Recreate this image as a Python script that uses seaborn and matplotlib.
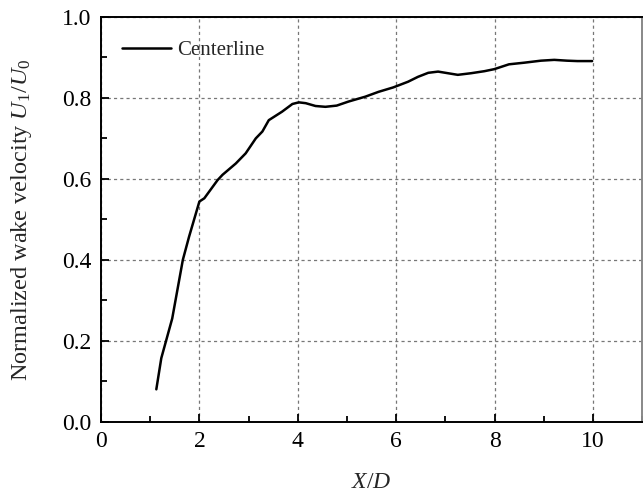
import numpy as np
import pandas as pd
import matplotlib
matplotlib.use("Agg")
import matplotlib.pyplot as plt
from matplotlib.ticker import MultipleLocator
import seaborn as sns

# Centerline wake velocity deficit recovery along the downstream distance
x_over_d = [1.125, 1.226, 1.448, 1.664, 1.79, 2.0, 2.10, 2.37, 2.47, 2.74, 2.94,
            3.146, 3.28, 3.41, 3.68, 3.89, 4.02, 4.16, 4.36, 4.56, 4.79, 5.03,
            5.37, 5.64, 5.94, 6.24, 6.44, 6.65, 6.85, 7.05, 7.25, 7.52, 7.79,
            7.99, 8.29, 8.60, 8.94, 9.21, 9.47, 9.68, 9.98]
u1_over_u0 = [0.080, 0.157, 0.255, 0.400, 0.457, 0.544, 0.552, 0.597, 0.610, 0.638, 0.663,
              0.700, 0.717, 0.745, 0.766, 0.785, 0.789, 0.787, 0.780, 0.778, 0.781, 0.791,
              0.803, 0.815, 0.826, 0.840, 0.852, 0.862, 0.865, 0.861, 0.857, 0.861, 0.866,
              0.871, 0.883, 0.887, 0.892, 0.894, 0.892, 0.891, 0.891]
series_name = "Centerline"

df = pd.DataFrame({"X/D": x_over_d, "U1/U0": u1_over_u0, "series": series_name})

sns.set_style("ticks")
plt.rcParams["font.family"] = ["Liberation Serif", "DejaVu Serif"]
plt.rcParams["mathtext.fontset"] = "custom"
plt.rcParams["mathtext.rm"] = "Liberation Serif"
plt.rcParams["mathtext.it"] = "Liberation Serif:italic"

fig = plt.figure(figsize=(6.43, 4.93), dpi=100)
ax = fig.add_axes([0.157, 0.1446, 0.842, 0.821])

sns.lineplot(data=df, x="X/D", y="U1/U0", hue="series", palette=["black"],
             linewidth=1.8, sort=False, ax=ax)

ax.set_xlim(0, 11)
ax.set_ylim(0, 1.0)
ax.xaxis.set_major_locator(MultipleLocator(2))
ax.xaxis.set_minor_locator(MultipleLocator(1))
ax.yaxis.set_major_locator(MultipleLocator(0.2))
ax.yaxis.set_minor_locator(MultipleLocator(0.1))
ax.set_yticklabels([f"{v:.1f}" for v in ax.get_yticks()])

ax.grid(True, which="major", color="#777777", linestyle=(0, (2.5, 2.5)), linewidth=0.9)
ax.tick_params(which="both", direction="in", top=False, right=False,
               labelsize=17, width=1.3, colors="black", pad=7)
ax.tick_params(which="major", length=6)
ax.tick_params(which="minor", length=4)
for side in ["left", "bottom", "top", "right"]:
    ax.spines[side].set_linewidth(1.4)
    ax.spines[side].set_color("black")
ax.spines["right"].set_color("#888888")

ax.set_xlabel("$X/D$", fontsize=17, labelpad=14)
ax.set_ylabel("Normalized wake velocity $U_1/U_0$", fontsize=17.5, labelpad=20)

leg = ax.legend(loc="upper left", frameon=False, fontsize=15,
                handlelength=2.35, handletextpad=0.25, borderaxespad=0.4,
                bbox_to_anchor=(0.009, 0.983))
for line in leg.get_lines():
    line.set_linewidth(1.8)

fig.savefig("out.png", dpi=100)
